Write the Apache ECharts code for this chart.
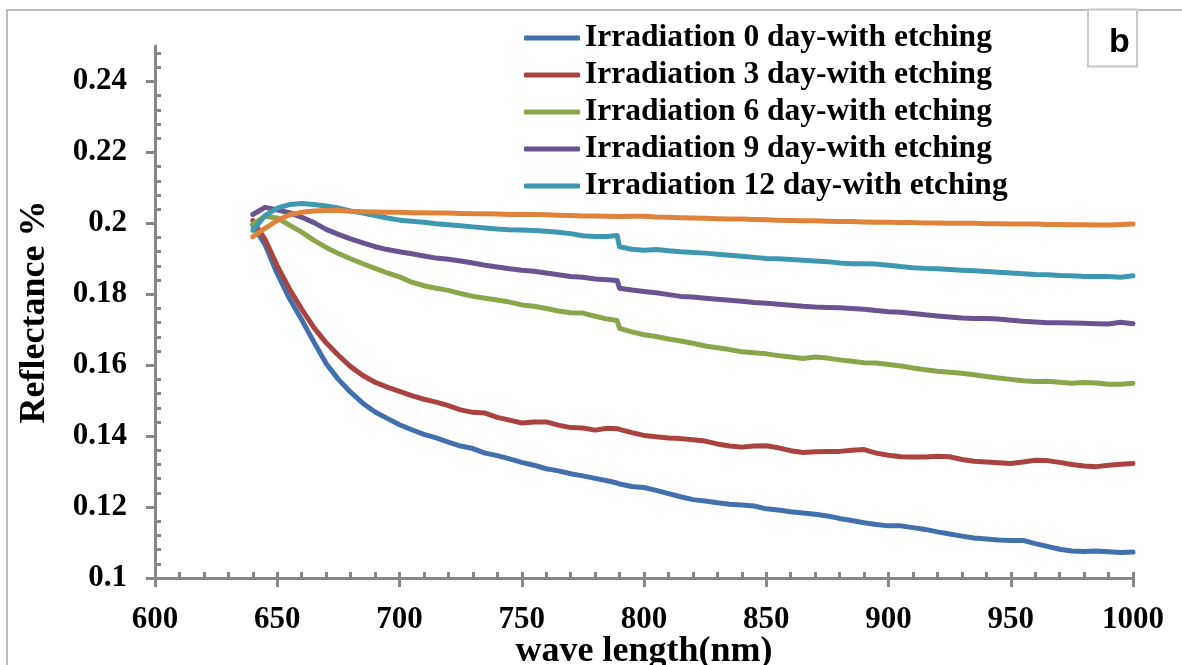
<!DOCTYPE html>
<html>
<head>
<meta charset="utf-8">
<script src="https://cdn.jsdelivr.net/npm/echarts@6/dist/echarts.min.js"></script>
<style>
  html, body { margin: 0; padding: 0; background: #fff; }
  #chart { width: 1182px; height: 665px; }
</style>
</head>
<body>
<div id="chart"></div>
<script>
// Wavelength samples (nm); 789 marks the detector switch just before 790 nm
const wavelengths = [640,645,650,655,660,665,670,675,680,685,690,695,700,705,710,715,720,725,730,735,740,745,750,755,760,765,770,775,780,785,789,
  790,795,800,805,810,815,820,825,830,835,840,845,850,855,860,865,870,875,880,885,890,895,900,905,910,915,920,925,930,935,940,945,950,955,960,965,970,975,980,985,990,995,1000];

const day0 = [0.1995,0.1940,0.1858,0.1788,0.1728,0.1665,0.1605,0.1560,0.1524,0.1493,0.1468,0.1450,0.1432,0.1418,0.1405,0.1395,0.1383,0.1372,0.1365,0.1352,0.1345,0.1336,0.1326,0.1318,0.1308,0.1302,0.1294,0.1288,0.1281,0.1274,0.1268,
  0.1265,0.1258,0.1255,0.1247,0.1238,0.1229,0.1221,0.1217,0.1212,0.1208,0.1206,0.1203,0.1195,0.1192,0.1187,0.1183,0.1180,0.1175,0.1168,0.1162,0.1156,0.1151,0.1147,0.1147,0.1142,0.1137,0.1130,0.1124,0.1118,0.1113,0.1110,0.1107,0.1106,0.1106,0.1097,0.1089,0.1081,0.1076,0.1075,0.1076,0.1074,0.1072,0.1073];

const day3 = [0.2008,0.1955,0.1880,0.1815,0.1758,0.1706,0.1663,0.1628,0.1596,0.1571,0.1552,0.1538,0.1526,0.1514,0.1504,0.1496,0.1486,0.1474,0.1467,0.1465,0.1453,0.1445,0.1437,0.1440,0.1440,0.1431,0.1424,0.1423,0.1417,0.1422,0.1421,
  0.1419,0.1410,0.1402,0.1398,0.1395,0.1393,0.1390,0.1386,0.1378,0.1372,0.1369,0.1372,0.1373,0.1367,0.1359,0.1354,0.1356,0.1357,0.1357,0.1360,0.1362,0.1352,0.1346,0.1342,0.1341,0.1341,0.1343,0.1342,0.1334,0.1329,0.1327,0.1325,0.1323,0.1327,0.1332,0.1331,0.1326,0.1320,0.1316,0.1314,0.1318,0.1321,0.1323];

const day6 = [0.1998,0.2020,0.2015,0.1995,0.1975,0.1952,0.1932,0.1915,0.1900,0.1886,0.1873,0.1860,0.1849,0.1834,0.1824,0.1817,0.1811,0.1802,0.1794,0.1789,0.1784,0.1778,0.1770,0.1766,0.1760,0.1753,0.1748,0.1747,0.1738,0.1730,0.1726,
  0.1704,0.1694,0.1686,0.1681,0.1674,0.1668,0.1662,0.1654,0.1649,0.1644,0.1638,0.1635,0.1632,0.1627,0.1623,0.1619,0.1623,0.1620,0.1615,0.1611,0.1607,0.1606,0.1602,0.1598,0.1592,0.1587,0.1583,0.1580,0.1577,0.1573,0.1568,0.1564,0.1560,0.1556,0.1554,0.1555,0.1552,0.1549,0.1551,0.1550,0.1546,0.1546,0.1549];

const day9 = [0.2025,0.2045,0.2038,0.2030,0.2017,0.2002,0.1983,0.1969,0.1956,0.1945,0.1934,0.1926,0.1920,0.1914,0.1908,0.1902,0.1899,0.1894,0.1888,0.1882,0.1877,0.1872,0.1868,0.1865,0.1860,0.1855,0.1850,0.1848,0.1843,0.1841,0.1839,
  0.1817,0.1812,0.1808,0.1804,0.1799,0.1794,0.1792,0.1789,0.1786,0.1783,0.1780,0.1777,0.1775,0.1772,0.1769,0.1766,0.1764,0.1763,0.1762,0.1760,0.1758,0.1754,0.1751,0.1749,0.1746,0.1742,0.1739,0.1736,0.1733,0.1732,0.1732,0.1730,0.1727,0.1724,0.1722,0.1720,0.1720,0.1719,0.1718,0.1717,0.1716,0.1721,0.1717];

const day12 = [0.1980,0.2022,0.2043,0.2053,0.2056,0.2053,0.2049,0.2043,0.2035,0.2029,0.2022,0.2015,0.2009,0.2006,0.2003,0.1999,0.1996,0.1993,0.1990,0.1987,0.1984,0.1982,0.1981,0.1980,0.1978,0.1975,0.1971,0.1965,0.1963,0.1963,0.1966,
  0.1934,0.1927,0.1924,0.1926,0.1923,0.1920,0.1918,0.1916,0.1913,0.1910,0.1907,0.1904,0.1901,0.1900,0.1898,0.1896,0.1894,0.1892,0.1888,0.1886,0.1886,0.1885,0.1882,0.1878,0.1875,0.1873,0.1872,0.1870,0.1868,0.1866,0.1864,0.1862,0.1860,0.1858,0.1856,0.1855,0.1853,0.1852,0.1850,0.1850,0.1850,0.1848,0.1852];

const baseline = [0.1962,0.1986,0.2008,0.2024,0.2031,0.2035,0.2036,0.2036,0.2034,0.2033,0.2032,0.2031,0.2031,0.2030,0.2030,0.2029,0.2029,0.2028,0.2027,0.2027,0.2026,0.2025,0.2025,0.2025,0.2024,0.2023,0.2022,0.2021,0.2021,0.2020,0.2019,
  0.2019,0.2020,0.2020,0.2018,0.2017,0.2016,0.2015,0.2014,0.2013,0.2012,0.2012,0.2011,0.2010,0.2009,0.2008,0.2007,0.2007,0.2006,0.2005,0.2005,0.2004,0.2003,0.2003,0.2002,0.2002,0.2001,0.2001,0.2000,0.2000,0.2000,0.1999,0.1999,0.1998,0.1998,0.1998,0.1997,0.1997,0.1996,0.1996,0.1995,0.1995,0.1997,0.1998];

const seriesNames = [
  'Irradiation 0 day-with etching',
  'Irradiation 3 day-with etching',
  'Irradiation 6 day-with etching',
  'Irradiation 9 day-with etching',
  'Irradiation 12 day-with etching',
  'Reference'
];
const seriesValues = [day0, day3, day6, day9, day12, baseline];
const seriesColors = ['#4270ac', '#a9433f', '#89a74a', '#6b5291', '#3e98b1', '#df833a'];

const yMajorTicks = [0.1, 0.12, 0.14, 0.16, 0.18, 0.2, 0.22, 0.24];
const yMinorTicks = [0.104,0.108,0.112,0.116,0.124,0.128,0.132,0.136,0.144,0.148,0.152,0.156,
  0.164,0.168,0.172,0.176,0.184,0.188,0.192,0.196,0.204,0.208,0.212,0.216,0.224,0.228,0.232,0.236,0.244,0.248];

const axisGray = '#878787';
const serif = "'Liberation Serif', 'Times New Roman', serif";
const labelStyle = { fontFamily: serif, fontWeight: 'bold', fontSize: 31, color: '#000' };
const titleStyle = { fontFamily: serif, fontWeight: 'bold', fontSize: 36, color: '#000' };

const chart = echarts.init(document.getElementById('chart'), null, { renderer: 'canvas' });

const option = {
  animation: false,
  backgroundColor: '#fff',
  grid: { left: 155, right: 49, top: 46, bottom: 87, containLabel: false, outerBoundsMode: 'none' },
  legend: {
    orient: 'vertical',
    left: 524,
    top: 22,
    data: seriesNames.slice(0, 5),
    icon: 'roundRect',
    itemWidth: 56,
    itemHeight: 5,
    itemGap: 5,
    padding: 0,
    textStyle: { fontFamily: serif, fontWeight: 'bold', fontSize: 31.5, color: '#000' }
  },
  xAxis: [
    {
      type: 'value', min: 600, max: 1000, interval: 50, position: 'bottom',
      axisLine: { show: true, onZero: false, lineStyle: { color: axisGray, width: 3 } },
      axisTick: { show: true, inside: false, length: 9, lineStyle: { color: axisGray, width: 3 } },
      axisLabel: Object.assign({ margin: 26, formatter: v => String(v) }, labelStyle),
      splitLine: { show: false },
      name: 'wave length(nm)', nameLocation: 'middle', nameGap: 56, nameMoveOverlap: false,
      nameTextStyle: titleStyle
    },
    {
      type: 'value', min: 600, max: 1000, interval: 10, position: 'bottom',
      axisLine: { show: false, onZero: false },
      axisTick: { show: true, inside: true, length: 6, lineStyle: { color: axisGray, width: 3 } },
      axisLabel: { show: false },
      splitLine: { show: false }
    }
  ],
  yAxis: [
    {
      type: 'value', min: 0.1, max: 0.25, position: 'left',
      axisLine: { show: true, onZero: false, lineStyle: { color: axisGray, width: 3 } },
      axisTick: { show: true, inside: false, length: 9, customValues: yMajorTicks, lineStyle: { color: axisGray, width: 3 } },
      axisLabel: Object.assign({ margin: 28, customValues: yMajorTicks, formatter: v => String(v) }, labelStyle),
      splitLine: { show: false },
      name: 'Reflectance %', nameLocation: 'middle', nameGap: 102, nameMoveOverlap: false,
      nameTextStyle: titleStyle
    },
    {
      type: 'value', min: 0.1, max: 0.25, position: 'left',
      axisLine: { show: false, onZero: false },
      axisTick: { show: true, inside: true, length: 6, customValues: yMinorTicks, lineStyle: { color: axisGray, width: 3 } },
      axisLabel: { show: false },
      splitLine: { show: false }
    }
  ],
  series: seriesNames.map((name, s) => ({
    name: name,
    type: 'line',
    xAxisIndex: 0,
    yAxisIndex: 0,
    showSymbol: false,
    symbol: 'none',
    smooth: false,
    color: seriesColors[s],
    lineStyle: { color: seriesColors[s], width: 5, cap: 'round', join: 'round' },
    data: wavelengths.map((w, i) => [w, seriesValues[s][i]])
  })),
  graphic: [
    {
      type: 'rect', z: 0, silent: true,
      shape: { x: 7, y: 10, width: 1200, height: 700 },
      style: { fill: 'none', stroke: '#a6a6a6', lineWidth: 1.5 }
    },
    {
      type: 'group', z: 100, silent: true,
      children: [
        {
          type: 'rect',
          shape: { x: 1088, y: 9.5, width: 49, height: 57 },
          style: { fill: '#fff', stroke: '#c8c8c8', lineWidth: 2 }
        },
        {
          type: 'text',
          x: 1119.5, y: 43,
          style: {
            text: 'b', fill: '#000',
            font: "bold 34px 'Liberation Sans', Arial, sans-serif",
            align: 'center', verticalAlign: 'middle'
          }
        }
      ]
    }
  ]
};

chart.setOption(option);
</script>
</body>
</html>
